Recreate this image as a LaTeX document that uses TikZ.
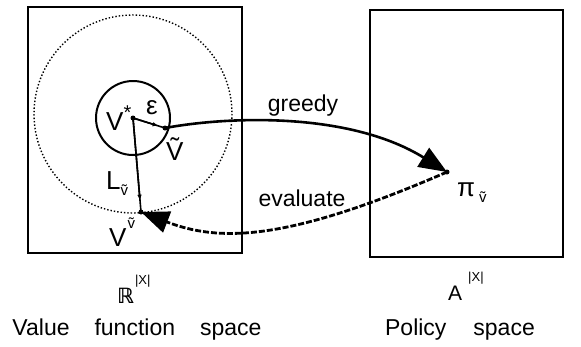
\documentclass[tikz,border=0pt]{standalone}
\usepackage{fontspec}
\setmainfont{Liberation Sans}
\newfontfamily\djv{DejaVu Sans}
\usetikzlibrary{arrows.meta,calc}
\newcommand{\smv}{{\fontsize{15}{15}\selectfont ṽ}}
\newcommand{\smx}{{\fontsize{13}{13}\selectfont |X|}}
\tikzset{
  spacebox/.style={line width=2pt},
  lbl/.style={inner sep=0pt, font=\fontsize{26}{28}\selectfont},
  txt/.style={inner sep=0pt, font=\fontsize{23}{27}\selectfont},
  pt/.style={circle, fill=black, inner sep=0pt, minimum size=5pt},
  bigtip/.style={-{Triangle[length=28pt,width=22pt]}},
}
\begin{document}
\begin{tikzpicture}[x=1pt,y=-1pt]
\useasboundingbox (0,0) rectangle (581,346);
% spaces
\draw[spacebox] (28,7) rectangle (242,253);
\draw[spacebox] (370,10) rectangle (563,257);
% circles
\draw[line width=1.4pt, dotted] (133,114) circle[radius=99];
\draw[line width=2pt] (133,118) circle[radius=37];
% points
\coordinate (vstar) at (133,118);
\coordinate (vt) at (165,128);
\coordinate (vv) at (141,212);
\coordinate (pi) at (447,172);
\node[pt] at (vstar) {};
\node[pt] at (vt) {};
\node[pt] at (vv) {};
\node[pt] at (pi) {};
% short arrows from V*
\draw[line width=1.6pt] (vstar) -- (vt);
\draw[line width=1.6pt, -{Latex[length=6pt,width=4.5pt]}] (vstar) -- ($(vstar)!0.8!(vt)$);
\draw[line width=1.6pt] (vstar) -- (vv);
\draw[line width=1.6pt, -{Latex[length=6pt,width=4.5pt]}] (vstar) -- ($(vstar)!0.88!(vv)$);
% greedy
\draw[line width=2.6pt, bigtip] (vt) .. controls (230,116) and (350,112) .. (pi);
% evaluate
\draw[line width=2.8pt, dash pattern=on 6pt off 2pt, bigtip] (pi) .. controls (286,242) and (219,242) .. (vv);
% labels
\node[lbl, anchor=base west] (vsl) at (106,130) {V\raisebox{11pt}{\fontsize{20}{20}\selectfont *}};
\node[lbl] (eps) at (152,108) {ε};
\node[lbl, anchor=base west] (vtl) at (166,160) {Ṽ};
\node[lbl, anchor=base west] (lv) at (106,189) {L\raisebox{-6pt}{\smv}};
\node[lbl, anchor=base west] (vvl) at (109,246) {V\raisebox{18pt}{\hspace{1pt}\smv}};
\node[lbl, anchor=base west] (pil) at (457,196) {π\raisebox{-6pt}{\hspace{4pt}\smv}};
\node[txt] (gr) at (303,106) {greedy};
\node[txt] (ev) at (302,198) {evaluate};
% spaces labels
\node[inner sep=0pt, anchor=base west, font=\fontsize{21}{24}\selectfont] (rr) at (117,303) {{\djv\bfseries ℝ}\raisebox{19pt}{\hspace{1pt}\smx}};
\node[inner sep=0pt, anchor=base west, font=\fontsize{21}{24}\selectfont] (aa) at (448,300) {A\raisebox{19pt}{\hspace{6pt}\smx}};
\node[txt] (vfs) at (137,330) {Value\hspace{25pt}function\hspace{25pt}space};
\node[txt] (ps) at (460,330) {Policy\hspace{27pt}space};
\end{tikzpicture}
\end{document}
